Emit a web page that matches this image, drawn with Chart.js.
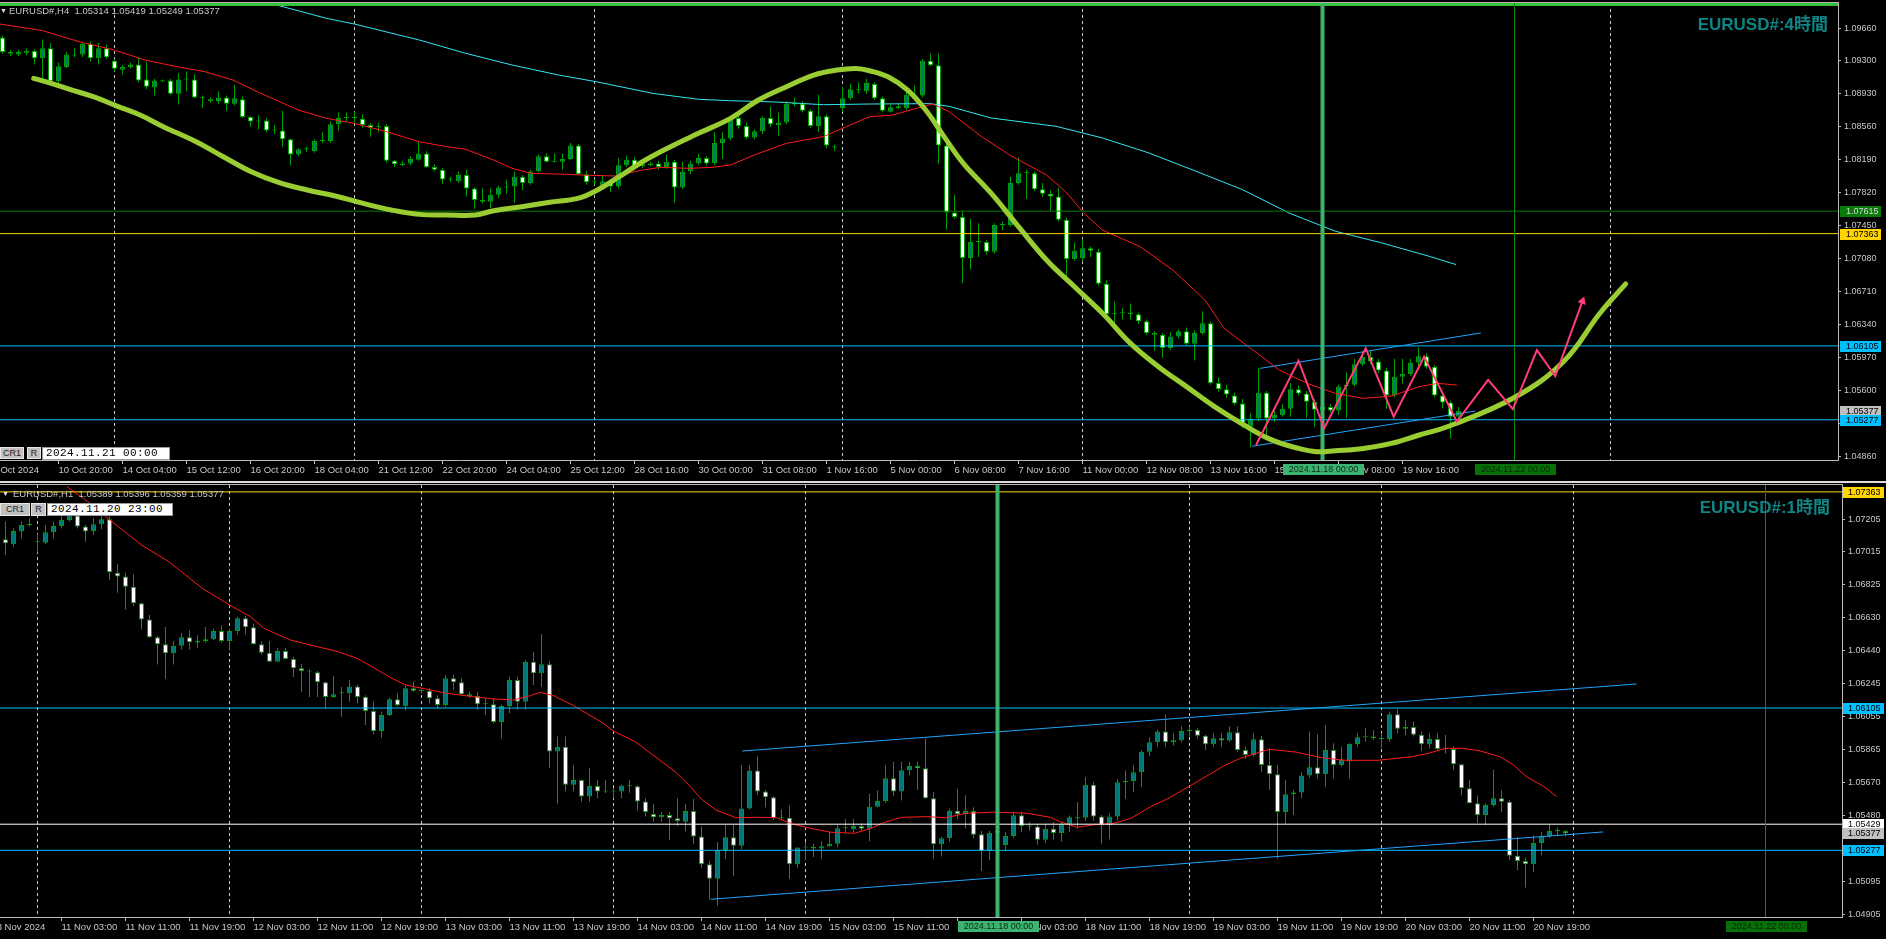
<!DOCTYPE html>
<html>
<head>
<meta charset="utf-8">
<title>EURUSD# H4 / H1</title>
<script src="https://cdn.jsdelivr.net/npm/chart.js@4.4.1/dist/chart.umd.min.js"></script>
<style>
  html, body { margin: 0; padding: 0; background: #000; }
  body { width: 1886px; height: 939px; position: relative; overflow: hidden; font-family: "Liberation Sans", Arial, sans-serif; }
  .pane { position: absolute; left: 0; width: 1886px; }
  #paneH4 { top: 0; height: 478px; }
  #paneH1 { top: 480px; height: 459px; }
  .rule { position: absolute; left: 0; }
  .txt { position: absolute; white-space: pre; color: #c8c8c8; font-size: 9.5px; line-height: 10px; }
  .title { position: absolute; white-space: pre; color: #108585; font: bold 17px "Liberation Sans", "Noto Sans CJK JP", sans-serif; line-height: 17px; }
  .btn { position: absolute; box-sizing: border-box; background: #c0c0c0; border: 1px solid #e6e6e6; color: #202020; font-size: 9px; line-height: 10px; text-align: center; }
  .stamp { position: absolute; box-sizing: border-box; background: #fff; border: 1px solid #9a9a9a; color: #000; font: 11px "Liberation Mono", monospace; letter-spacing: 0.4px; line-height: 11px; padding-left: 3px; }
</style>
</head>
<body>
<div class="pane" id="paneH4"><canvas id="h4"></canvas></div>
<div class="pane" id="paneH1"><canvas id="h1"></canvas></div>

<div class="rule" style="top:2px;width:1839px;height:1px;background:#b4b4b4"></div>
<div class="rule" style="top:481px;width:1886px;height:2px;background:#dcdcdc"></div>
<div class="rule" style="top:484px;width:1843px;height:1px;background:#b4b4b4"></div>

<div class="txt" style="left:0px;top:6px;color:#e0e0e0;font-size:7px">▼</div>
<div class="txt" style="left:9px;top:6px">EURUSD#,H4  1.05314 1.05419 1.05249 1.05377</div>
<div class="title" style="right:58px;top:16px">EURUSD#:4時間</div>
<div class="btn" style="left:0;top:447px;width:24px;height:12px">CR1</div>
<div class="btn" style="left:27px;top:447px;width:14px;height:12px">R</div>
<div class="stamp" style="left:42px;top:447px;width:128px;height:13px">2024.11.21 00:00</div>

<div class="txt" style="left:2px;top:489px;color:#e0e0e0;font-size:7px">▼</div>
<div class="txt" style="left:13px;top:489px">EURUSD#,H1  1.05389 1.05396 1.05359 1.05377</div>
<div class="title" style="right:56px;top:499px">EURUSD#:1時間</div>
<div class="btn" style="left:0;top:503px;width:30px;height:13px">CR1</div>
<div class="btn" style="left:31px;top:503px;width:15px;height:13px">R</div>
<div class="stamp" style="left:47px;top:503px;width:126px;height:13px">2024.11.20 23:00</div>

<script>
// ---------- H4 panel (top) ----------
const h4Open = [
  1.0956,1.0940,1.0937,1.0939,1.0941,1.0933,1.0944,1.0907,1.0923,1.0936,
  1.0937,1.0949,1.0933,1.0944,1.0930,1.0920,1.0923,1.0926,1.0909,1.0900,
  1.0907,1.0908,1.0893,1.0909,1.0909,1.0888,1.0887,1.0885,1.0889,1.0882,
  1.0887,1.0867,1.0862,1.0863,1.0852,1.0852,1.0842,1.0825,1.0831,1.0829,
  1.0840,1.0840,1.0859,1.0866,1.0866,1.0865,1.0858,1.0856,1.0857,1.0818,
  1.0813,1.0815,1.0819,1.0826,1.0811,1.0808,1.0797,1.0795,1.0802,1.0787,
  1.0772,1.0772,1.0780,1.0788,1.0789,1.0800,1.0793,1.0806,1.0823,1.0817,
  1.0817,1.0820,1.0835,1.0803,1.0794,1.0790,1.0794,1.0789,1.0813,1.0819,
  1.0812,1.0813,1.0815,1.0811,1.0817,1.0788,1.0806,1.0815,1.0821,1.0815,
  1.0838,1.0843,1.0866,1.0857,1.0844,1.0851,1.0866,1.0858,1.0861,1.0881,
  1.0882,1.0874,1.0857,1.0868,1.0834,1.0877,1.0888,1.0897,1.0896,1.0904,
  1.0888,1.0873,1.0877,1.0877,1.0891,1.0891,1.0930,1.0925,1.0835,1.0760,
  1.0755,1.0709,1.0727,1.0727,1.0716,1.0746,1.0746,1.0793,1.0804,1.0804,
  1.0786,1.0781,1.0778,1.0752,1.0708,1.0709,1.0720,1.0716,1.0680,1.0646,
  1.0647,1.0648,1.0646,1.0638,1.0625,1.0623,1.0608,1.0621,1.0627,1.0613,
  1.0625,1.0636,1.0569,1.0562,1.0555,1.0546,1.0520,1.0529,1.0558,1.0529,
  1.0533,1.0540,1.0562,1.0557,1.0548,1.0539,1.0542,1.0538,1.0565,1.0567,
  1.0590,1.0598,1.0593,1.0583,1.0555,1.0576,1.0579,1.0592,1.0599,1.0587,
  1.0555,1.0547,1.05314];
const h4High = [
  1.0958,1.0942,1.0942,1.0944,1.0943,1.0954,1.0950,1.0928,1.0940,1.0944,
  1.0951,1.0952,1.0950,1.0948,1.0932,1.0925,1.0928,1.0934,1.0929,1.0910,
  1.0909,1.0910,1.0916,1.0918,1.0915,1.0891,1.0889,1.0896,1.0891,1.0903,
  1.0890,1.0868,1.0869,1.0866,1.0858,1.0874,1.0843,1.0832,1.0834,1.0842,
  1.0850,1.0862,1.0872,1.0872,1.0873,1.0870,1.0860,1.0861,1.0859,1.0819,
  1.0818,1.0823,1.0839,1.0829,1.0814,1.0810,1.0800,1.0806,1.0808,1.0788,
  1.0787,1.0787,1.0790,1.0797,1.0806,1.0802,1.0808,1.0825,1.0826,1.0826,
  1.0826,1.0838,1.0837,1.0806,1.0797,1.0802,1.0796,1.0821,1.0824,1.0822,
  1.0818,1.0817,1.0818,1.0825,1.0819,1.0817,1.0818,1.0826,1.0823,1.0850,
  1.0850,1.0866,1.0868,1.0861,1.0853,1.0868,1.0879,1.0872,1.0884,1.0889,
  1.0885,1.0876,1.0892,1.0870,1.0836,1.0901,1.0904,1.0906,1.0910,1.0906,
  1.0890,1.0881,1.0882,1.0896,1.0902,1.0932,1.0938,1.0938,1.0838,1.0780,
  1.0762,1.0753,1.0748,1.0729,1.0748,1.0750,1.0800,1.0822,1.0808,1.0806,
  1.0793,1.0785,1.0788,1.0754,1.0726,1.0730,1.0722,1.0719,1.0684,1.0660,
  1.0653,1.0658,1.0648,1.0640,1.0627,1.0625,1.0626,1.0629,1.0631,1.0628,
  1.0649,1.0638,1.0575,1.0567,1.0558,1.0551,1.0535,1.0586,1.0560,1.0538,
  1.0545,1.0569,1.0566,1.0560,1.0551,1.0548,1.0545,1.0567,1.0581,1.0596,
  1.0604,1.0605,1.0596,1.0586,1.0596,1.0596,1.0596,1.0609,1.0602,1.0589,
  1.0558,1.0549,1.05419];
const h4Low = [
  1.0938,1.0935,1.0935,1.0936,1.0926,1.0910,1.0905,1.0903,1.0922,1.0934,
  1.0934,1.0929,1.0926,1.0932,1.0918,1.0915,1.0921,1.0906,1.0898,1.0891,
  1.0906,1.0892,1.0881,1.0896,1.0888,1.0877,1.0883,1.0882,1.0874,1.0880,
  1.0866,1.0856,1.0853,1.0850,1.0848,1.0834,1.0813,1.0823,1.0828,1.0827,
  1.0838,1.0838,1.0852,1.0862,1.0861,1.0855,1.0845,1.0850,1.0816,1.0811,
  1.0812,1.0813,1.0818,1.0810,1.0806,1.0792,1.0794,1.0793,1.0778,1.0764,
  1.0770,1.0765,1.0776,1.0781,1.0771,1.0785,1.0791,1.0805,1.0816,1.0816,
  1.0808,1.0819,1.0802,1.0791,1.0791,1.0788,1.0783,1.0787,1.0811,1.0808,
  1.0810,1.0812,1.0808,1.0809,1.0771,1.0786,1.0803,1.0813,1.0813,1.0813,
  1.0820,1.0841,1.0854,1.0842,1.0842,1.0848,1.0856,1.0846,1.0859,1.0879,
  1.0872,1.0855,1.0850,1.0832,1.0829,1.0873,1.0886,1.0893,1.0893,1.0886,
  1.0872,1.0872,1.0876,1.0875,1.0886,1.0889,1.0924,1.0815,1.0741,1.0753,
  1.0681,1.0696,1.0710,1.0713,1.0714,1.0740,1.0744,1.0791,1.0775,1.0784,
  1.0778,1.0762,1.0750,1.0688,1.0706,1.0705,1.0710,1.0678,1.0644,1.0630,
  1.0640,1.0640,1.0635,1.0623,1.0605,1.0597,1.0606,1.0619,1.0611,1.0594,
  1.0623,1.0567,1.0559,1.0552,1.0544,1.0518,1.0497,1.0526,1.0508,1.0525,
  1.0531,1.0531,1.0555,1.0530,1.0520,1.0535,1.0536,1.0533,1.0530,1.0565,
  1.0588,1.0590,1.0580,1.0540,1.0553,1.0568,1.0577,1.0588,1.0585,1.0553,
  1.0541,1.0507,1.05249];
const h4Close = [
  1.0940,1.0938,1.0940,1.0941,1.0933,1.0944,1.0907,1.0924,1.0937,1.0937,
  1.0949,1.0933,1.0944,1.0934,1.0921,1.0923,1.0926,1.0908,1.0901,1.0908,
  1.0908,1.0893,1.0909,1.0910,1.0889,1.0889,1.0885,1.0889,1.0882,1.0888,
  1.0867,1.0862,1.0863,1.0852,1.0853,1.0842,1.0825,1.0831,1.0832,1.0840,
  1.0841,1.0859,1.0866,1.0867,1.0867,1.0858,1.0855,1.0857,1.0818,1.0814,
  1.0815,1.0820,1.0826,1.0811,1.0808,1.0797,1.0798,1.0802,1.0787,1.0774,
  1.0774,1.0780,1.0788,1.0789,1.0800,1.0793,1.0806,1.0823,1.0817,1.0818,
  1.0820,1.0835,1.0803,1.0794,1.0794,1.0795,1.0789,1.0813,1.0819,1.0812,
  1.0814,1.0815,1.0811,1.0817,1.0788,1.0806,1.0815,1.0821,1.0815,1.0838,
  1.0843,1.0864,1.0857,1.0844,1.0851,1.0866,1.0859,1.0861,1.0882,1.0883,
  1.0874,1.0857,1.0868,1.0835,1.0833,1.0888,1.0898,1.0898,1.0905,1.0888,
  1.0874,1.0878,1.0879,1.0892,1.0892,1.0930,1.0925,1.0835,1.0760,1.0755,
  1.0709,1.0727,1.0728,1.0716,1.0746,1.0747,1.0793,1.0804,1.0805,1.0786,
  1.0781,1.0778,1.0752,1.0708,1.0717,1.0720,1.0717,1.0680,1.0646,1.0647,
  1.0648,1.0646,1.0638,1.0625,1.0623,1.0608,1.0621,1.0627,1.0613,1.0625,
  1.0636,1.0569,1.0562,1.0556,1.0546,1.0524,1.0529,1.0558,1.0529,1.0533,
  1.0540,1.0562,1.0557,1.0548,1.0539,1.0542,1.0538,1.0565,1.0567,1.0590,
  1.0598,1.0593,1.0583,1.0555,1.0576,1.0579,1.0592,1.0599,1.0587,1.0555,
  1.0547,1.0531,1.05377];

// moving averages (bar index, price)
const h4RedX = [-0.3,5,9.6,14,17.8,21.8,25.3,28.8,32.3,37,40.5,44,48,52.1,55.6,57.9,61.4,63.7,66.1,69.5,72.5,76.5,80,82.3,85.8,88.8,91,94.5,98,102.6,105.5,108.4,111.3,114.2,116.3,118.3,122.4,125.9,130.5,132.9,135.2,137.5,142.2,146.3,150.3,152.7,156.2,159.6,163.1,166.6,170.1,173.6,177.1,179.4,181.8];
const h4RedY = [1.09712,1.09638,1.09514,1.09421,1.09309,1.09234,1.09178,1.09085,1.08935,1.08748,1.08655,1.08599,1.08506,1.08393,1.08337,1.08308,1.08188,1.08095,1.08039,1.08031,1.08020,1.08009,1.08076,1.08106,1.08095,1.08106,1.08132,1.08263,1.08375,1.08450,1.08562,1.08674,1.08692,1.08767,1.08816,1.08730,1.08450,1.08244,1.08020,1.07833,1.07590,1.07403,1.07217,1.06955,1.06619,1.06301,1.06066,1.05834,1.05685,1.05573,1.05517,1.05543,1.05648,1.05685,1.05666];
const h4CyanX = [25,33.5,40.5,44,52.1,57.9,63.7,69.5,74.2,81.3,87.1,91,96.8,102.6,108.4,116,118.3,123.6,131.7,137.5,143.3,149.2,155,160.8,166.6,172.4,178.3,181.7];
const h4CyanY = [1.1005,1.09944,1.09776,1.09712,1.09533,1.09384,1.09253,1.09141,1.09066,1.08935,1.08868,1.08853,1.08838,1.08808,1.08816,1.08820,1.08790,1.08659,1.08566,1.08435,1.08267,1.08062,1.07856,1.07595,1.07390,1.07259,1.07110,1.07016];

// hand drawn objects
const h4LimeX = [3.9,6.1,8.4,11.35,14.3,17.2,20.1,24.2,27.6,31.1,34.6,38.1,41.6,45.1,48.6,52.1,55.6,59.1,61.4,64.9,68.4,71.9,74.2,77.1,80,83.5,87,91,94.5,98,101.4,104.3,106.7,108.4,110.8,113.1,115.4,117.7,120.1,123.6,127,130.5,134,137.5,141,144.5,148,151.5,155,158.5,162,164.3,166.6,170.1,173.6,177.1,180.6,189.1,195.2,199.7,202.9];
const h4LimeY = [1.09103,1.09047,1.08980,1.08898,1.08793,1.08692,1.08562,1.08393,1.08225,1.08057,1.07934,1.07852,1.07785,1.07702,1.07628,1.07579,1.07572,1.07572,1.07620,1.07665,1.07714,1.07758,1.07844,1.08001,1.08169,1.08337,1.08487,1.08655,1.08861,1.09010,1.09141,1.09197,1.09215,1.09189,1.09115,1.08973,1.08748,1.08450,1.08151,1.07814,1.07441,1.07067,1.06768,1.06470,1.06133,1.05872,1.05648,1.05424,1.05229,1.05057,1.04956,1.04919,1.04930,1.04956,1.05012,1.05106,1.05199,1.05532,1.05936,1.06474,1.06799];
const h4PinkX = [156.7,162,165.2,170.4,173.9,177.7,181.8,185.7,188.8,191.8,194.1,197.5];
const h4PinkY = [1.04994,1.05939,1.05181,1.06077,1.05311,1.05984,1.05255,1.05723,1.05397,1.06058,1.05767,1.06607];
const h4UpperX = [157.2,184.8], h4UpperY = [1.05853,1.06250];
const h4LowerX = [156.2,184.1], h4LowerY = [1.04980,1.05375];
const h4Levels = [1.09931,1.07615,1.07363,1.06105,1.05277];
const h4LevelColors = ['#36c436','#0a7a0a','#ffd400','#00bfff','#00bfff'];
const h4LevelWidths = [3,1,1,1,1];
const h4MarkBars = [165,189];          // 2024.11.18 00:00, 2024.11.22 00:00
const h4GridBars = [14,44,74,105,135,165,201];
const h4PriceTicks = [1.09660,1.09300,1.08930,1.08560,1.08190,1.07820,1.07450,1.07080,1.06710,1.06340,1.05970,1.05600,1.05230,1.04860];
const h4TimeBars = [-1.25,7,15,23,31,39,47,55,63,71,79,87,95,103,111,119,127,135,143,151,159,167,175];
const h4TimeLabels = ['9 Oct 2024','10 Oct 20:00','14 Oct 04:00','15 Oct 12:00','16 Oct 20:00','18 Oct 04:00','21 Oct 12:00','22 Oct 20:00','24 Oct 04:00','25 Oct 12:00','28 Oct 16:00','30 Oct 00:00','31 Oct 08:00','1 Nov 16:00','5 Nov 00:00','6 Nov 08:00','7 Nov 16:00','11 Nov 00:00','12 Nov 08:00','13 Nov 16:00','15 Nov 00:00','18 Nov 08:00','19 Nov 16:00'];

// ---------- H1 panel (bottom) ----------
const h1Open = [
  1.07087,1.07058,1.07132,1.07170,1.07070,1.07067,1.07128,1.07164,1.07199,1.07225,
  1.07161,1.07135,1.07174,1.07203,1.06893,1.06870,1.06811,1.06715,1.06621,1.06517,
  1.06476,1.06424,1.06468,1.06517,1.06486,1.06495,1.06505,1.06553,1.06495,1.06553,
  1.06627,1.06575,1.06476,1.06427,1.06375,1.06437,1.06391,1.06336,1.06317,1.06313,
  1.06255,1.06170,1.06191,1.06191,1.06230,1.06170,1.06088,1.05971,1.06065,1.06156,
  1.06115,1.06220,1.06205,1.06205,1.06162,1.06123,1.06278,1.06255,1.06185,1.06175,
  1.06127,1.06127,1.06024,1.06117,1.06268,1.06142,1.06375,1.06307,1.06360,1.05852,
  1.05880,1.05658,1.05686,1.05590,1.05652,1.05619,1.05619,1.05619,1.05654,1.05650,
  1.05561,1.05488,1.05470,1.05483,1.05464,1.05444,1.05506,1.05357,1.05196,1.05111,
  1.05279,1.05353,1.05303,1.05521,1.05741,1.05619,1.05586,1.05463,1.05466,1.05196,
  1.05293,1.05297,1.05287,1.05300,1.05316,1.05405,1.05400,1.05419,1.05402,1.05531,
  1.05564,1.05696,1.05619,1.05743,1.05768,1.05755,1.05580,1.05312,1.05347,1.05508,
  1.05487,1.05506,1.05370,1.05273,1.05380,1.05308,1.05360,1.05481,1.05419,1.05415,
  1.05338,1.05402,1.05378,1.05429,1.05462,1.05467,1.05658,1.05474,1.05425,1.05474,
  1.05673,1.05681,1.05731,1.05851,1.05906,1.05968,1.05906,1.05918,1.05971,1.05977,
  1.05944,1.05894,1.05929,1.05916,1.05964,1.05861,1.05832,1.05923,1.05774,1.05720,
  1.05500,1.05603,1.05614,1.05712,1.05760,1.05720,1.05861,1.05774,1.05794,1.05896,
  1.05935,1.05939,1.05929,1.05925,1.06069,1.05985,1.05995,1.05950,1.05894,1.05925,
  1.05867,1.05867,1.05778,1.05638,1.05551,1.05483,1.05541,1.05580,1.05560,1.05246,
  1.05215,1.05196,1.05319,1.05357,1.05390,1.05389];
const h1High = [
  1.07190,1.07151,1.07190,1.07210,1.07120,1.07170,1.07190,1.07220,1.07250,1.07270,
  1.07170,1.07210,1.07230,1.07220,1.06942,1.06893,1.06883,1.06718,1.06646,1.06524,
  1.06577,1.06495,1.06541,1.06558,1.06528,1.06577,1.06567,1.06587,1.06567,1.06636,
  1.06640,1.06597,1.06492,1.06495,1.06456,1.06456,1.06404,1.06363,1.06330,1.06320,
  1.06260,1.06290,1.06228,1.06268,1.06240,1.06180,1.06142,1.06085,1.06165,1.06190,
  1.06238,1.06258,1.06220,1.06220,1.06180,1.06297,1.06297,1.06278,1.06200,1.06200,
  1.06160,1.06160,1.06125,1.06287,1.06287,1.06385,1.06431,1.06536,1.06378,1.05939,
  1.05939,1.05772,1.05690,1.05755,1.05686,1.05686,1.05640,1.05658,1.05687,1.05655,
  1.05580,1.05547,1.05500,1.05500,1.05580,1.05547,1.05577,1.05416,1.05213,1.05326,
  1.05426,1.05426,1.05773,1.05773,1.05823,1.05628,1.05590,1.05515,1.05537,1.05293,
  1.05326,1.05316,1.05331,1.05384,1.05425,1.05460,1.05460,1.05435,1.05606,1.05625,
  1.05771,1.05792,1.05792,1.05792,1.05792,1.05928,1.05616,1.05354,1.05520,1.05636,
  1.05597,1.05528,1.05390,1.05390,1.05400,1.05384,1.05500,1.05500,1.05440,1.05430,
  1.05430,1.05440,1.05440,1.05480,1.05558,1.05702,1.05675,1.05482,1.05490,1.05692,
  1.05741,1.05770,1.05860,1.05935,1.05978,1.06067,1.05958,1.05999,1.05999,1.05987,
  1.05950,1.05958,1.05958,1.05997,1.05997,1.05880,1.05958,1.05944,1.05870,1.05773,
  1.05686,1.05628,1.05732,1.05968,1.05953,1.06006,1.05900,1.05880,1.05900,1.05958,
  1.05987,1.05977,1.05958,1.06085,1.06097,1.06036,1.06027,1.05968,1.05958,1.05958,
  1.05948,1.05880,1.05780,1.05686,1.05596,1.05551,1.05746,1.05626,1.05570,1.05355,
  1.05235,1.05365,1.05384,1.05432,1.05410,1.05396];
const h1Low = [
  1.06996,1.07043,1.07093,1.07160,1.07010,1.07060,1.07093,1.07150,1.07190,1.07150,
  1.07073,1.07112,1.07145,1.06852,1.06776,1.06679,1.06699,1.06563,1.06514,1.06359,
  1.06276,1.06359,1.06446,1.06446,1.06456,1.06485,1.06500,1.06485,1.06446,1.06534,
  1.06534,1.06476,1.06417,1.06373,1.06375,1.06389,1.06286,1.06200,1.06170,1.06170,
  1.06103,1.06165,1.06054,1.06142,1.06133,1.06006,1.05951,1.05932,1.06060,1.06114,
  1.06091,1.06199,1.06190,1.06131,1.06103,1.06113,1.06210,1.06180,1.06165,1.06094,
  1.06064,1.06016,1.05929,1.06074,1.06094,1.06094,1.06239,1.06229,1.05755,1.05549,
  1.05620,1.05620,1.05560,1.05560,1.05580,1.05610,1.05580,1.05580,1.05612,1.05510,
  1.05474,1.05443,1.05443,1.05338,1.05419,1.05386,1.05315,1.05176,1.04992,1.04954,
  1.05227,1.05129,1.05284,1.05515,1.05599,1.05528,1.05454,1.05454,1.05112,1.05176,
  1.05219,1.05238,1.05229,1.05297,1.05297,1.05376,1.05380,1.05390,1.05330,1.05527,
  1.05553,1.05593,1.05567,1.05714,1.05628,1.05577,1.05229,1.05241,1.05327,1.05460,
  1.05405,1.05348,1.05157,1.05219,1.05330,1.05277,1.05350,1.05383,1.05390,1.05310,
  1.05320,1.05338,1.05329,1.05384,1.05404,1.05449,1.05449,1.05317,1.05342,1.05451,
  1.05577,1.05616,1.05645,1.05825,1.05880,1.05880,1.05887,1.05906,1.05939,1.05929,
  1.05861,1.05880,1.05880,1.05909,1.05851,1.05809,1.05823,1.05735,1.05628,1.05228,
  1.05431,1.05483,1.05580,1.05700,1.05697,1.05648,1.05696,1.05764,1.05696,1.05880,
  1.05909,1.05919,1.05871,1.05909,1.05955,1.05946,1.05939,1.05855,1.05870,1.05861,
  1.05841,1.05744,1.05597,1.05551,1.05436,1.05423,1.05531,1.05500,1.05219,1.05161,
  1.05061,1.05151,1.05248,1.05350,1.05359,1.05359];
const h1Close = [
  1.07064,1.07135,1.07170,1.07172,1.07072,1.07128,1.07164,1.07199,1.07225,1.07161,
  1.07132,1.07174,1.07203,1.06895,1.06870,1.06811,1.06715,1.06621,1.06517,1.06476,
  1.06424,1.06468,1.06517,1.06488,1.06495,1.06505,1.06553,1.06495,1.06553,1.06627,
  1.06575,1.06476,1.06427,1.06375,1.06437,1.06391,1.06336,1.06321,1.06320,1.06255,
  1.06170,1.06185,1.06192,1.06230,1.06170,1.06088,1.05971,1.06065,1.06156,1.06121,
  1.06220,1.06205,1.06204,1.06162,1.06123,1.06278,1.06255,1.06185,1.06175,1.06127,
  1.06128,1.06024,1.06117,1.06268,1.06142,1.06375,1.06307,1.06360,1.05852,1.05880,
  1.05658,1.05686,1.05590,1.05652,1.05619,1.05620,1.05620,1.05654,1.05650,1.05561,
  1.05500,1.05470,1.05483,1.05464,1.05448,1.05506,1.05357,1.05196,1.05111,1.05279,
  1.05353,1.05303,1.05521,1.05741,1.05619,1.05586,1.05463,1.05468,1.05196,1.05293,
  1.05294,1.05287,1.05300,1.05316,1.05405,1.05409,1.05419,1.05402,1.05531,1.05564,
  1.05696,1.05619,1.05743,1.05768,1.05755,1.05580,1.05312,1.05347,1.05508,1.05487,
  1.05506,1.05367,1.05273,1.05380,1.05390,1.05360,1.05481,1.05419,1.05415,1.05338,
  1.05402,1.05378,1.05429,1.05470,1.05470,1.05658,1.05474,1.05425,1.05474,1.05673,
  1.05681,1.05731,1.05851,1.05906,1.05968,1.05906,1.05918,1.05971,1.05977,1.05944,
  1.05894,1.05929,1.05916,1.05964,1.05861,1.05832,1.05923,1.05774,1.05720,1.05500,
  1.05603,1.05614,1.05712,1.05760,1.05720,1.05861,1.05774,1.05803,1.05896,1.05935,
  1.05939,1.05929,1.05925,1.06069,1.05985,1.05995,1.05950,1.05894,1.05925,1.05867,
  1.05868,1.05778,1.05638,1.05551,1.05483,1.05541,1.05580,1.05560,1.05246,1.05215,
  1.05196,1.05319,1.05357,1.05390,1.05389,1.05377];
const h1RedX = [7.7,10.3,12.8,17.0,20.4,24.6,28.0,30.6,32.3,35.6,39.0,41.6,44.1,45.8,48.3,50.0,52.5,55.1,58.5,61.0,63.5,65.6,66.8,68.5,71.0,74.4,76.1,78.7,81.2,83.7,85.4,87.1,88.8,91.3,93.9,96.4,98.1,100.6,103.2,106.1,108.2,109.9,112.0,115.0,117.5,120.1,123.5,127.7,130.6,131.8,133.9,136.0,138.6,140.7,143.2,145.4,147.9,150.4,152.5,154.6,158.0,161.4,164.4,167.3,171.6,175.8,177.9,180.0,182.1,184.2,186.8,188.5,190.1,192.3,193.9];
const h1RedY = [1.07393,1.07306,1.07209,1.07054,1.06957,1.06802,1.06705,1.06637,1.06569,1.06501,1.06462,1.06433,1.06391,1.06346,1.06278,1.06239,1.06216,1.06191,1.06171,1.06158,1.06152,1.06177,1.06197,1.06177,1.06119,1.06026,1.05968,1.05910,1.05822,1.05735,1.05658,1.05570,1.05512,1.05467,1.05469,1.05467,1.05434,1.05405,1.05382,1.05376,1.05405,1.05440,1.05469,1.05473,1.05467,1.05493,1.05499,1.05493,1.05469,1.05444,1.05411,1.05425,1.05435,1.05464,1.05532,1.05580,1.05648,1.05716,1.05774,1.05817,1.05865,1.05848,1.05817,1.05801,1.05801,1.05822,1.05842,1.05871,1.05871,1.05857,1.05822,1.05774,1.05706,1.05648,1.05590];
const h1UpperX = [92.1,203.9], h1UpperY = [1.05855,1.06245];
const h1LowerX = [88.1,199.7], h1LowerY = [1.04992,1.05384];
const h1Levels = [1.07363,1.06105,1.05429,1.05277];
const h1LevelColors = ['#ffd400','#00bfff','#ffffff','#00bfff'];
const h1MarkBars = [124,220];
const h1GridBars = [4,28,52,76,100,124,148,172,196];
const h1PriceTicks = [1.07205,1.07015,1.06825,1.06630,1.06440,1.06245,1.06055,1.05865,1.05670,1.05480,1.05290,1.05095,1.04905];
const h1TimeBars = [-1.1,7,15,23,31,39,47,55,63,71,79,87,95,103,111,119,127,135,143,151,159,167,175,183,191];
const h1TimeLabels = ['8 Nov 2024','11 Nov 03:00','11 Nov 11:00','11 Nov 19:00','12 Nov 03:00','12 Nov 11:00','12 Nov 19:00','13 Nov 03:00','13 Nov 11:00','13 Nov 19:00','14 Nov 03:00','14 Nov 11:00','14 Nov 19:00','15 Nov 03:00','15 Nov 11:00','15 Nov 19:00','18 Nov 03:00','18 Nov 11:00','18 Nov 19:00','19 Nov 03:00','19 Nov 11:00','19 Nov 19:00','20 Nov 03:00','20 Nov 11:00','20 Nov 19:00'];

// ---------- styling ----------
const AXIS = '#bcbcbc';
const AXIS_TEXT = '#c8c8c8';
const GRID = '#c8c8c8';
const WICK = '#00a000';
const BULL_BODY = '#007878';
const BEAR_BODY = '#ffffff';
const RED = '#ff1a1a';
const CYAN = '#33e6f2';
const LIME = '#9acd32';
const PINK = '#ff3d7a';
const CHANNEL = '#1ea6ff';
const MARK = '#3cb371';
const MARK_DARK = '#0a8a0a';
const FONT = "'Liberation Sans', Arial, sans-serif";

Chart.defaults.font.family = FONT;

function candles(open, high, low, close) {
  const wicks = open.map((o, i) => ({ x: i, y: [low[i], high[i]] }));
  const bodies = open.map((o, i) => ({ x: i, y: [o, close[i]] }));
  return [
    { type: 'bar', data: wicks, backgroundColor: WICK, barThickness: 1, grouped: false, inflateAmount: 0, order: 30 },
    { type: 'bar', data: bodies, backgroundColor: open.map((o, i) => close[i] > o ? BULL_BODY : BEAR_BODY),
      borderColor: WICK, borderWidth: 1, borderSkipped: false, barThickness: 5, minBarLength: 1,
      grouped: false, inflateAmount: 0, order: 29 }
  ];
}

function path(xs, ys, color, width, order, extra) {
  return Object.assign({
    type: 'line', data: xs.map((x, i) => ({ x: x, y: ys[i] })),
    borderColor: color, borderWidth: width, pointRadius: 0, fill: false, tension: 0, order: order
  }, extra || {});
}

// no label overflow padding: the plot must start at the very left edge
function noPad(s) { s.paddingLeft = 0; s.paddingRight = 0; s.paddingTop = 0; s.paddingBottom = 0; }

// price boxes on the right axis + date boxes under the time axis
function overlay(badges, dates, box) {
  return {
    id: 'mtOverlay',
    afterDraw(chart) {
      const { ctx, chartArea } = chart;
      const xs = chart.scales.x, ys = chart.scales.y;
      ctx.save();
      ctx.font = '9px ' + FONT;
      ctx.textBaseline = 'middle';
      ctx.textAlign = 'left';
      badges.forEach(b => {
        const py = Math.round(ys.getPixelForValue(b.value));
        ctx.fillStyle = b.bg;
        ctx.fillRect(chartArea.right + box.off, py - 5, box.w, 11);
        ctx.fillStyle = b.fg;
        ctx.fillText(b.value.toFixed(5), chartArea.right + box.off + box.text, py + 0.5);
      });
      ctx.textAlign = 'center';
      dates.forEach(d => {
        const px = Math.round(xs.getPixelForValue(d.bar));
        ctx.fillStyle = d.bg;
        ctx.fillRect(px - 40, chartArea.bottom + 4, 81, 11);
        ctx.fillStyle = d.fg;
        ctx.fillText(d.text, px + 0.5, chartArea.bottom + 10);
      });
      ctx.restore();
    }
  };
}

function panel(id, p) {
  return new Chart(document.getElementById(id), {
    type: 'bar',
    data: { datasets: p.datasets },
    options: {
      responsive: true, maintainAspectRatio: false, animation: false, events: [],
      layout: { padding: { top: p.padTop, left: 0, right: 0, bottom: 0 }, autoPadding: false },
      plugins: { legend: { display: false }, tooltip: { enabled: false } },
      scales: {
        x: {
          type: 'linear', min: p.xMin, max: p.xMax, offset: false,
          afterBuildTicks: s => { s.ticks = p.timeBars.map(v => ({ value: v })); },
          afterFit: s => { s.height = p.xHeight; noPad(s); },
          ticks: { autoSkip: false, maxRotation: 0, minRotation: 0, align: 'start', padding: 1,
                   color: AXIS_TEXT, font: { family: FONT, size: 9.5 },
                   callback: (v, i) => p.timeLabels[i] },
          grid: { drawOnChartArea: false, drawTicks: true, tickLength: 4, color: AXIS, offset: false },
          border: { display: true, color: AXIS }
        },
        xg: {
          type: 'linear', position: 'top', min: p.xMin, max: p.xMax, offset: false,
          afterBuildTicks: s => { s.ticks = p.gridBars.map(v => ({ value: v })); },
          afterFit: s => { s.height = 0; noPad(s); },
          ticks: { display: false },
          grid: { drawOnChartArea: true, drawTicks: false, color: GRID, lineWidth: 1, offset: false },
          border: { display: false, dash: [3, 3] }
        },
        y: {
          type: 'linear', position: 'right', min: p.yMin, max: p.yMax,
          afterBuildTicks: s => { s.ticks = p.priceTicks.map(v => ({ value: v })); },
          afterFit: s => { s.width = p.yWidth; noPad(s); },
          ticks: { padding: 3, color: AXIS_TEXT, font: { family: FONT, size: 9 }, callback: v => v.toFixed(5) },
          grid: { drawOnChartArea: false, drawTicks: true, tickLength: 3, color: AXIS },
          border: { display: true, color: AXIS }
        }
      }
    },
    plugins: [overlay(p.badges, p.dates, p.box)]
  });
}

// ---------- top: H4 ----------
const H4 = { xMin: -0.3125, xMax: 229.4375, yMin: 1.04826, yMax: 1.09948 };
panel('h4', {
  padTop: 3, xHeight: 18, yWidth: 48,
  xMin: H4.xMin, xMax: H4.xMax, yMin: H4.yMin, yMax: H4.yMax,
  timeBars: h4TimeBars, timeLabels: h4TimeLabels, gridBars: h4GridBars, priceTicks: h4PriceTicks,
  datasets: [
    ...candles(h4Open, h4High, h4Low, h4Close),
    path(h4CyanX, h4CyanY, CYAN, 1, 12),
    path(h4RedX, h4RedY, RED, 1, 11),
    ...h4Levels.map((v, k) => path([H4.xMin - 2, H4.xMax + 2], [v, v], h4LevelColors[k], h4LevelWidths[k], 9)),
    path(h4UpperX, h4UpperY, CHANNEL, 1, 8),
    path(h4LowerX, h4LowerY, CHANNEL, 1, 8),
    path([h4MarkBars[0], h4MarkBars[0]], [H4.yMin - 0.01, H4.yMax + 0.01], MARK, 4, 7, { clip: 0 }),
    path([h4MarkBars[1], h4MarkBars[1]], [H4.yMin - 0.01, H4.yMax + 0.01], MARK_DARK, 1, 7, { clip: 0 }),
    path(h4LimeX, h4LimeY, LIME, 5, 5, { tension: 0.4, borderCapStyle: 'round', borderJoinStyle: 'round' }),
    path(h4PinkX, h4PinkY, PINK, 2, 4, {
      pointRadius: h4PinkX.map((x, i) => i === h4PinkX.length - 1 ? 5 : 0),
      pointStyle: 'triangle', pointRotation: 20, pointBackgroundColor: PINK, pointBorderColor: PINK, pointBorderWidth: 0
    })
  ],
  badges: [
    { value: 1.07615, bg: '#0a7a0a', fg: '#d8d8d8' },
    { value: 1.07363, bg: '#ffd400', fg: '#000000' },
    { value: 1.06105, bg: '#00bfff', fg: '#000000' },
    { value: 1.05377, bg: '#c0c0c0', fg: '#000000' },
    { value: 1.05277, bg: '#00bfff', fg: '#000000' }
  ],
  box: { off: 2, w: 41, text: 6 },
  dates: [
    { bar: h4MarkBars[0], text: '2024.11.18 00:00', bg: MARK, fg: '#0c2a14' },
    { bar: h4MarkBars[1], text: '2024.11.22 00:00', bg: '#087008', fg: '#062806' }
  ]
});

// ---------- bottom: H1 ----------
const H1 = { xMin: -0.6875, xMax: 229.5625, yMin: 1.04889, yMax: 1.07403 };
panel('h1', {
  padTop: 5, xHeight: 22, yWidth: 44,
  xMin: H1.xMin, xMax: H1.xMax, yMin: H1.yMin, yMax: H1.yMax,
  timeBars: h1TimeBars, timeLabels: h1TimeLabels, gridBars: h1GridBars, priceTicks: h1PriceTicks,
  datasets: [
    ...candles(h1Open, h1High, h1Low, h1Close),
    path(h1RedX, h1RedY, RED, 1, 11),
    ...h1Levels.map((v, k) => path([H1.xMin - 2, H1.xMax + 2], [v, v], h1LevelColors[k], 1, 9)),
    path(h1UpperX, h1UpperY, CHANNEL, 1, 8),
    path(h1LowerX, h1LowerY, CHANNEL, 1, 8),
    path([h1MarkBars[0], h1MarkBars[0]], [H1.yMin - 0.01, H1.yMax + 0.01], MARK, 4, 7, { clip: 0 }),
    path([h1MarkBars[1], h1MarkBars[1]], [H1.yMin - 0.01, H1.yMax + 0.01], MARK_DARK, 1, 7, { clip: 0 })
  ],
  badges: [
    { value: 1.07363, bg: '#ffd400', fg: '#000000' },
    { value: 1.06105, bg: '#00bfff', fg: '#000000' },
    { value: 1.05429, bg: '#ffffff', fg: '#000000' },
    { value: 1.05377, bg: '#c0c0c0', fg: '#000000' },
    { value: 1.05277, bg: '#00bfff', fg: '#000000' }
  ],
  box: { off: 1, w: 41, text: 5 },
  dates: [
    { bar: h1MarkBars[0], text: '2024.11.18 00:00', bg: MARK, fg: '#0c2a14' },
    { bar: h1MarkBars[1], text: '2024.11.22 00:00', bg: '#087008', fg: '#062806' }
  ]
});
</script>
</body>
</html>
